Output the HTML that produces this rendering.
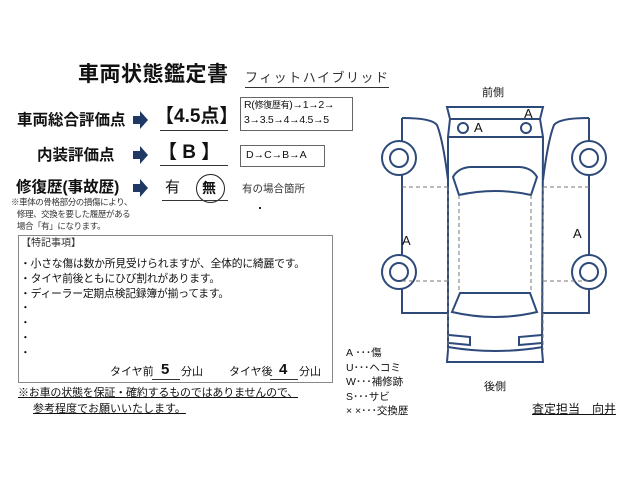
<!DOCTYPE html>
<html><head><meta charset="utf-8"><style>
body{margin:0;width:640px;height:480px;background:#fff;position:relative;overflow:hidden;font-family:"Liberation Sans","Noto Sans CJK JP",sans-serif;color:#111}
.a{position:absolute;white-space:nowrap;line-height:1}
.b{font-weight:bold}
.box{position:absolute;border:1px solid #666}
</style></head><body>
<div class="a b" style="left:78px;top:64px;font-size:21px;letter-spacing:0.5px">車両状態鑑定書</div>
<div class="a" style="left:245px;top:71px;font-size:13px;letter-spacing:1.5px;color:#333;border-bottom:1px solid #333;padding-bottom:3px">フィットハイブリッド</div>

<div class="a b" style="left:17px;top:113px;font-size:15.5px">車両総合評価点</div>
<svg style="position:absolute;left:133px;top:110px" width="16" height="20"><polygon points="0,6 7,6 7,1 15,10 7,19 7,14 0,14" fill="#1f3864"/></svg>
<div class="a b" style="left:155px;top:107px;font-size:19px">【4.5点】</div>
<div style="position:absolute;left:160px;top:130px;width:68px;border-top:1px solid #333"></div>
<div class="box" style="left:240px;top:97px;width:111px;height:32px"></div>
<div class="a" style="left:244px;top:100px;font-size:10.5px;letter-spacing:-0.3px">R(<span style="font-size:9px">修復歴有</span>)→1→2→</div>
<div class="a" style="left:244px;top:115px;font-size:10.5px;letter-spacing:-0.3px">3→3.5→4→4.5→5</div>

<div class="a b" style="left:37px;top:148px;font-size:15.5px">内装評価点</div>
<svg style="position:absolute;left:133px;top:145px" width="16" height="20"><polygon points="0,6 7,6 7,1 15,10 7,19 7,14 0,14" fill="#1f3864"/></svg>
<div class="a b" style="left:158px;top:143px;font-size:19px">【 B 】</div>
<div style="position:absolute;left:160px;top:165px;width:68px;border-top:1px solid #333"></div>
<div class="box" style="left:240px;top:145px;width:83px;height:20px"></div>
<div class="a" style="left:246px;top:150px;font-size:10.5px">D→C→B→A</div>

<div class="a b" style="left:16px;top:180px;font-size:15.5px">修復歴(事故歴)</div>
<svg style="position:absolute;left:133px;top:178px" width="16" height="20"><polygon points="0,6 7,6 7,1 15,10 7,19 7,14 0,14" fill="#1f3864"/></svg>
<div class="a" style="left:165px;top:180px;font-size:15px">有</div>
<div style="position:absolute;left:196px;top:174px;width:27px;height:27px;border:1px solid #222;border-radius:50%"></div>
<div class="a b" style="left:202px;top:181px;font-size:14px">無</div>
<div style="position:absolute;left:162px;top:200px;width:66px;border-top:1px solid #333"></div>
<div class="a" style="left:242px;top:184px;font-size:10.5px;color:#333">有の場合箇所</div>
<div style="position:absolute;left:259px;top:207px;width:2px;height:2px;background:#222"></div>
<div class="a" style="left:11px;top:196px;font-size:8.5px;color:#333;line-height:12px;letter-spacing:-0.4px">※車体の骨格部分の損傷により、<br>&nbsp;&nbsp;&nbsp;修理、交換を要した履歴がある<br>&nbsp;&nbsp;&nbsp;場合「有」になります。</div>

<div class="box" style="left:18px;top:235px;width:313px;height:146px;border-color:#888"></div>
<div class="a" style="left:21px;top:239px;font-size:10px;color:#333">【特記事項】</div>
<div class="a" style="left:20px;top:257px;font-size:10.8px;line-height:14.8px;letter-spacing:-0.2px">・小さな傷は数か所見受けられますが、全体的に綺麗です。<br>・タイヤ前後ともにひび割れがあります。<br>・ディーラー定期点検記録簿が揃ってます。<br>・<br>・<br>・<br>・</div>
<div class="a" style="left:110px;top:367px;font-size:11px">タイヤ前</div>
<div style="position:absolute;left:152px;top:379px;width:28px;border-top:1px solid #333"></div>
<div class="a b" style="left:161px;top:362px;font-size:15px">5</div>
<div class="a" style="left:181px;top:367px;font-size:11px">分山</div>
<div class="a" style="left:229px;top:367px;font-size:11px">タイヤ後</div>
<div style="position:absolute;left:270px;top:379px;width:28px;border-top:1px solid #333"></div>
<div class="a b" style="left:279px;top:362px;font-size:15px">4</div>
<div class="a" style="left:299px;top:367px;font-size:11px">分山</div>
<div class="a" style="left:18px;top:388px;font-size:11px;text-decoration:underline;letter-spacing:-0.2px">※お車の状態を保証・確約するものではありませんので、</div>
<div class="a" style="left:33px;top:404px;font-size:11px;text-decoration:underline">参考程度でお願いいたします。</div>

<div class="a" style="left:346px;top:346px;font-size:10.5px;line-height:14.5px">A ･･･傷<br>U･･･ヘコミ<br>W･･･補修跡<br>S･･･サビ<br>× ×･･･交換歴</div>
<div class="a" style="left:482px;top:88px;font-size:11px">前側</div>
<div class="a" style="left:484px;top:382px;font-size:11px">後側</div>
<div class="a" style="left:532px;top:403px;font-size:12px;text-decoration:underline">査定担当　向井</div>

<svg style="position:absolute;left:0;top:0" width="640" height="480">
<g fill="none" stroke="#2e4a7a" stroke-width="2">
<path d="M447,107 L543,107 L540,119 L450,119 Z"/>
<path d="M450,119 L540,119 L543,137 L448,137 Z"/>
<path d="M448,137 L448,350 L447,362 L543,362 L542,350 L543,137"/>
<path d="M402,118 L402,313 L448,313"/>
<path d="M402,118 Q432,118 437,125 Q443,140 448,180"/>
<path d="M589,118 L589,313 L543,313"/>
<path d="M589,118 Q559,118 554,125 Q548,140 543,180"/>
<path d="M453,177 Q458,168 470,167 L520,167 Q532,168 537,177 L531,195 Q495,187 459,195 Z"/>
<path d="M460,293 L530,293 L537,312 Q495,322 452,312 Z"/>
<path d="M449,335 L470,337 L470,345 L449,343"/>
<path d="M542,335 L519,337 L519,345 L542,343"/>
<path d="M448,347 Q495,355 543,347"/>
<circle cx="463" cy="128" r="5"/><circle cx="526" cy="128" r="5"/>
</g>
<g fill="#fff" stroke="#2e4a7a" stroke-width="2">
<circle cx="399" cy="158" r="17"/><circle cx="399" cy="158" r="9"/>
<circle cx="399" cy="272" r="17"/><circle cx="399" cy="272" r="9"/>
<circle cx="589" cy="158" r="17"/><circle cx="589" cy="158" r="9"/>
<circle cx="589" cy="272" r="17"/><circle cx="589" cy="272" r="9"/>
</g>
<g stroke="#777" stroke-width="1" stroke-dasharray="4,3" fill="none">
<path d="M402,187 L448,187 M402,281 L448,281 M543,187 L589,187 M543,281 L589,281"/>
<path d="M448,187 L448,350 M459,195 L459,292 M531,195 L531,292 M543,187 L543,350"/>
</g>
<g font-family="Liberation Sans" font-size="13" fill="#111">
<text x="474" y="132">A</text><text x="524" y="118">A</text>
<text x="402" y="245">A</text><text x="573" y="238">A</text>
</g>
</svg>
</body></html>
